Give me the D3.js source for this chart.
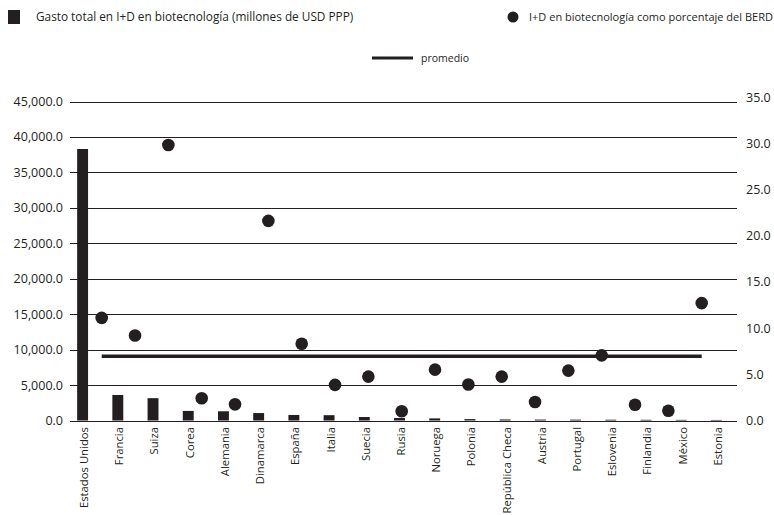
<!DOCTYPE html>
<html>
<head>
<meta charset="utf-8">
<script src="https://cdn.jsdelivr.net/npm/d3@7"></script>
<style>
  body { margin: 0; background: #ffffff; }
  svg text { font-family: "Open Sans", sans-serif; fill: #231f20; }
</style>
</head>
<body>
<div id="chart"></div>
<script>
// data
const countries = ['Estados Unidos', 'Francia', 'Suiza', 'Corea', 'Alemania', 'Dinamarca', 'España',
    'Italia', 'Suecia', 'Rusia', 'Noruega', 'Polonia', 'República Checa', 'Austria', 'Portugal',
    'Eslovenia', 'Finlandia', 'México', 'Estonia'];
const spending = [38300, 3600, 3150, 1350, 1300, 1050, 780, 750, 490, 350, 300, 200, 150, 130, 120, 110, 100, 90, 80];
const shareBerd = [11.1, 9.2, 29.8, 2.4, 1.75, 21.6, 8.3, 3.85, 4.75, 1.0, 5.5, 3.9, 4.75, 2.0, 5.4, 7.05, 1.7, 1.05, 12.7];
const average = countries.map(() => 6.95);
const leftTicks = [0, 5000, 10000, 15000, 20000, 25000, 30000, 35000, 40000, 45000];
const rightTicks = [0, 5, 10, 15, 20, 25, 30, 35];

const width = 774, height = 515;
const ink = '#231f20';

const svg = d3.select('#chart').append('svg')
    .attr('width', width)
    .attr('height', height);

// scales
const yLeft = d3.scaleLinear().domain([0, 45000]).range([420.5, 101.5]);
const yRight = d3.scaleLinear().domain([0, 35]).range([420.5, 97]);
const xBar = d3.scaleBand().domain(countries).range([65, 734]).paddingInner(0.69).paddingOuter(0.345);
const xDot = d3.scalePoint().domain(countries).range([101.7, 701.7]);

// gridlines
svg.append('g')
    .selectAll('line')
    .data(leftTicks)
    .enter()
    .append('line')
    .attr('x1', 70)
    .attr('x2', 737)
    .attr('y1', d => Math.round(yLeft(d)) + 0.5)
    .attr('y2', d => Math.round(yLeft(d)) + 0.5)
    .attr('stroke', ink)
    .attr('stroke-width', 1);

// left axis
const fmtLeft = d3.format(',.1f');
const leftAxis = svg.append('g')
    .attr('transform', 'translate(70,0)')
    .call(d3.axisLeft(yLeft).tickValues(leftTicks).tickFormat(fmtLeft).tickSize(0).tickPadding(7));
leftAxis.select('.domain').remove();
leftAxis.selectAll('text')
    .style('font-size', '12.5px')
    .style('fill', ink);

// right axis
const rightAxis = svg.append('g')
    .attr('transform', 'translate(737,0)')
    .call(d3.axisRight(yRight).tickValues(rightTicks).tickFormat(d3.format('.1f')).tickSize(0).tickPadding(9));
rightAxis.select('.domain').remove();
rightAxis.selectAll('text')
    .style('font-size', '12.5px')
    .style('fill', ink);

// bars
svg.selectAll('.bar')
    .data(countries)
    .enter()
    .append('rect')
    .attr('class', 'bar')
    .attr('x', d => xBar(d))
    .attr('width', xBar.bandwidth())
    .attr('y', (d, i) => yLeft(spending[i]))
    .attr('height', (d, i) => yLeft(0) - yLeft(spending[i]))
    .attr('fill', ink);

// average line
const avgLine = d3.line()
    .x((d, i) => xDot(countries[i]))
    .y(d => yRight(d));
svg.append('path')
    .datum(average)
    .attr('d', avgLine)
    .attr('fill', 'none')
    .attr('stroke', ink)
    .attr('stroke-width', 3.5);

// dots
svg.selectAll('.dot')
    .data(countries)
    .enter()
    .append('circle')
    .attr('class', 'dot')
    .attr('cx', d => xDot(d))
    .attr('cy', (d, i) => yRight(shareBerd[i]))
    .attr('r', 6.3)
    .attr('fill', ink);

// category labels
svg.append('g')
    .selectAll('text')
    .data(countries)
    .enter()
    .append('text')
    .attr('transform', d => `translate(${xBar(d) + xBar.bandwidth() / 2 + 1.5}, 427) rotate(-90)`)
    .attr('dy', '0.35em')
    .attr('text-anchor', 'end')
    .style('font-size', '11.3px')
    .text(d => d);

// legend
const legend = svg.append('g').attr('class', 'legend');

legend.append('rect')
    .attr('x', 8)
    .attr('y', 10)
    .attr('width', 12)
    .attr('height', 14)
    .attr('fill', ink);

legend.append('text')
    .attr('x', 36)
    .attr('y', 17)
    .attr('dy', '0.35em')
    .style('font-size', '11.8px')
    .text('Gasto total en I+D en biotecnología (millones de USD PPP)');

legend.append('circle')
    .attr('cx', 513)
    .attr('cy', 17)
    .attr('r', 5.5)
    .attr('fill', ink);

legend.append('text')
    .attr('x', 529)
    .attr('y', 17)
    .attr('dy', '0.35em')
    .style('font-size', '11px')
    .text('I+D en biotecnología como porcentaje del BERD');

legend.append('line')
    .attr('x1', 372)
    .attr('x2', 413)
    .attr('y1', 58)
    .attr('y2', 58)
    .attr('stroke', ink)
    .attr('stroke-width', 3);

legend.append('text')
    .attr('x', 421)
    .attr('y', 58)
    .attr('dy', '0.35em')
    .style('font-size', '10.5px')
    .text('promedio');
</script>
</body>
</html>
